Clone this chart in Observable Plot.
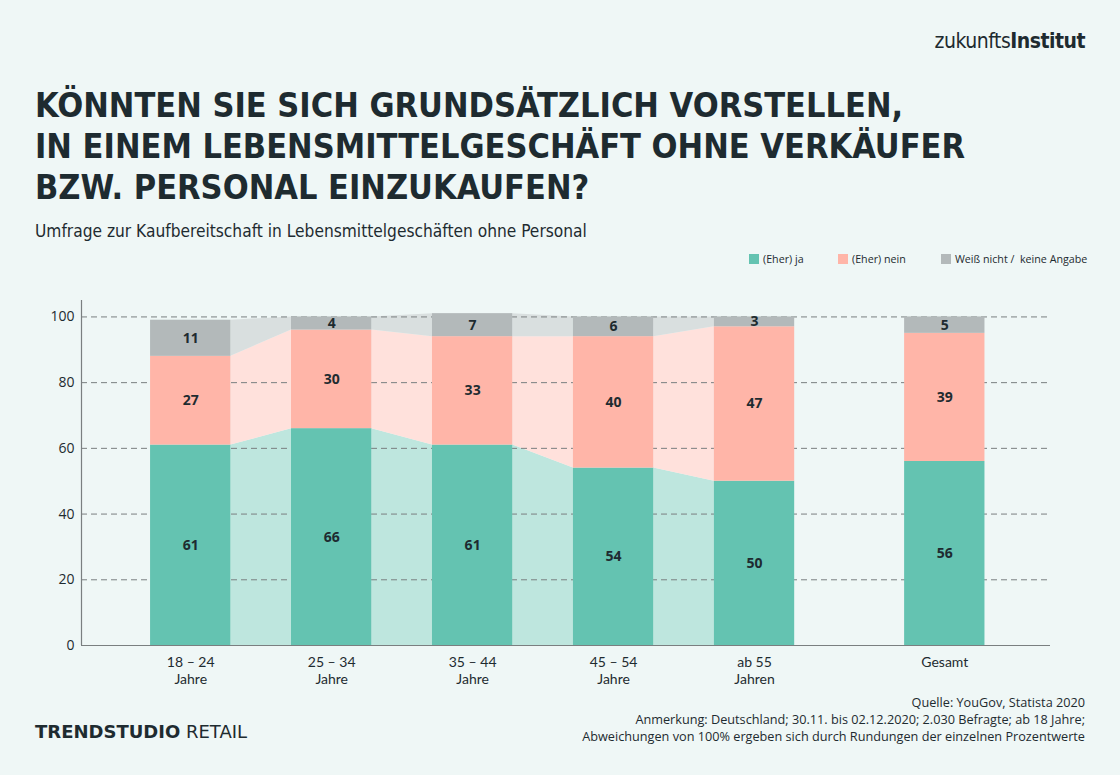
<!DOCTYPE html>
<html><head><meta charset="utf-8">
<script src="https://cdn.jsdelivr.net/npm/d3@7"></script>
<script src="https://cdn.jsdelivr.net/npm/@observablehq/plot@0.6"></script>
<style>
html,body{margin:0;padding:0;background:#eff7f6;}
#page{position:relative;width:1120px;height:775px;background:#eff7f6;color:#1e2b30;font-family:"Open Sans","Noto Sans",sans-serif;overflow:hidden;}
.abs{position:absolute;white-space:nowrap;}
#logo{right:35px;top:29px;font-family:"DejaVu Sans Condensed","Liberation Sans Narrow",sans-serif;font-size:21px;letter-spacing:-0.5px;}
#title{left:35px;top:85px;font-family:"DejaVu Sans Condensed",sans-serif;font-weight:bold;font-size:34px;line-height:41px;letter-spacing:0px;}
#subtitle{left:35px;top:221px;font-family:"DejaVu Sans Condensed",sans-serif;font-size:17.2px;}
#legend{left:749px;top:252px;font-size:10.7px;}
.li{position:absolute;top:0;display:flex;align-items:center;}
.sw{width:10px;height:10px;display:inline-block;margin-right:4px;}
#chart{left:0;top:290px;}
#footer{right:35px;top:694px;text-align:right;font-size:12.7px;line-height:17px;}
#brand{left:35px;top:721px;font-size:18px;font-family:"DejaVu Sans",sans-serif;}
</style></head>
<body><div id="page">
<div id="logo" class="abs">zukunfts<b>Institut</b></div>
<div id="title" class="abs">KÖNNTEN SIE SICH GRUNDSÄTZLICH VORSTELLEN,<br>IN EINEM LEBENSMITTELGESCHÄFT OHNE VERKÄUFER<br>BZW. PERSONAL EINZUKAUFEN?</div>
<div id="subtitle" class="abs">Umfrage zur Kaufbereitschaft in Lebensmittelgeschäften ohne Personal</div>
<div id="legend" class="abs"></div>
<div id="chart" class="abs"></div>
<div id="footer" class="abs">Quelle: YouGov, Statista 2020<br>Anmerkung: Deutschland; 30.11. bis 02.12.2020; 2.030 Befragte; ab 18 Jahre;<br>Abweichungen von 100% ergeben sich durch Rundungen der einzelnen Prozentwerte</div>
<div id="brand" class="abs"><b>TRENDSTUDIO</b> RETAIL</div>
</div>
<script>
// ---- data ----
const groups = ["18 – 24\nJahre", "25 – 34\nJahre", "35 – 44\nJahre", "45 – 54\nJahre", "ab 55\nJahren", "Gesamt"];
const ja = [61, 66, 61, 54, 50, 56];
const nein = [27, 30, 33, 40, 47, 39];
const weiss = [11, 4, 7, 6, 3, 5];
const seriesNames = ["(Eher) ja", "(Eher) nein", "Weiß nicht /\u00a0 keine Angabe"];
const yTicks = [0, 20, 40, 60, 80, 100];

// ---- styling ----
const colors = ["#64c3b1", "#ffb5a8", "#b3b9ba"];
const lightColors = ["#bee6de", "#ffe1dc", "#d9dfdf"];
const hw = 0.285;
const pos = groups.map((g, i) => i < 5 ? i : i + 0.35);
const xDomain = [-0.775, 6.1];

const series = [ja, nein, weiss];
const rows = [];
groups.forEach((g, i) => {
  let base = 0;
  series.forEach((vals, s) => {
    rows.push({i, s, x: pos[i], y1: base, y2: base + vals[i], v: vals[i]});
    base += vals[i];
  });
});
const conn = [];
for (let k = 0; k < 4; k++) {
  series.forEach((vals, s) => {
    const a = rows.find(r => r.i === k && r.s === s);
    const b = rows.find(r => r.i === k + 1 && r.s === s);
    conn.push({z: k + "-" + s, s, x: pos[k] + hw, y1: a.y1, y2: a.y2});
    conn.push({z: k + "-" + s, s, x: pos[k + 1] - hw, y1: b.y1, y2: b.y2});
  });
}
const line1 = groups.map((g, i) => ({x: pos[i], t: g.split("\n")[0]}));
const line2 = groups.filter(g => g.includes("\n")).map(g => ({x: pos[groups.indexOf(g)], t: g.split("\n")[1]}));

const chart = Plot.plot({
  width: 1120, height: 400,
  marginLeft: 81, marginRight: 70, marginTop: 10, marginBottom: 45,
  style: {background: "transparent", fontFamily: "'Open Sans','Noto Sans',sans-serif", color: "#1e2b30"},
  x: {type: "linear", domain: xDomain, axis: null},
  y: {domain: [0, 105], axis: null},
  marks: [
    Plot.areaY(conn, {x: "x", y1: "y1", y2: "y2", z: "z", fill: d => lightColors[d.s], curve: "linear"}),
    Plot.ruleY(yTicks.filter(t => t > 0), {stroke: "#7a7f80", strokeWidth: 1, strokeDasharray: "6,4"}),
    Plot.rect(rows, {x1: d => d.x - hw, x2: d => d.x + hw, y1: "y1", y2: "y2", fill: d => colors[d.s]}),
    Plot.text(rows, {x: "x", y: d => (d.y1 + d.y2) / 2, text: d => String(d.v), fontWeight: "bold", fontSize: 14, fill: "#1e2b30"}),
    Plot.ruleY([0], {stroke: "#7a7f80", strokeWidth: 1.2}),
    Plot.ruleX([xDomain[0]], {y1: 0, y2: 105, stroke: "#7a7f80", strokeWidth: 1.2}),
    Plot.text(yTicks, {x: xDomain[0], y: d => d, text: d => String(d), textAnchor: "end", dx: -7, fontSize: 14, fill: "#1e2b30"}),
    Plot.text(line1, {x: "x", y: 0, text: "t", dy: 17, fontSize: 14, fontFamily: "Lato, 'Open Sans', sans-serif", fill: "#1e2b30"}),
    Plot.text(line2, {x: "x", y: 0, text: "t", dy: 34, fontSize: 14, fontFamily: "Lato, 'Open Sans', sans-serif", fill: "#1e2b30"})
  ]
});
document.getElementById("chart").appendChild(chart);

const lg = document.getElementById("legend");
const lx = [0, 89, 192];
seriesNames.forEach((n, s) => {
  const el = document.createElement("div");
  el.className = "li";
  el.style.left = lx[s] + "px";
  el.innerHTML = `<span class="sw" style="background:${colors[s]}"></span>${n}`;
  lg.appendChild(el);
});
</script>
</body></html>
